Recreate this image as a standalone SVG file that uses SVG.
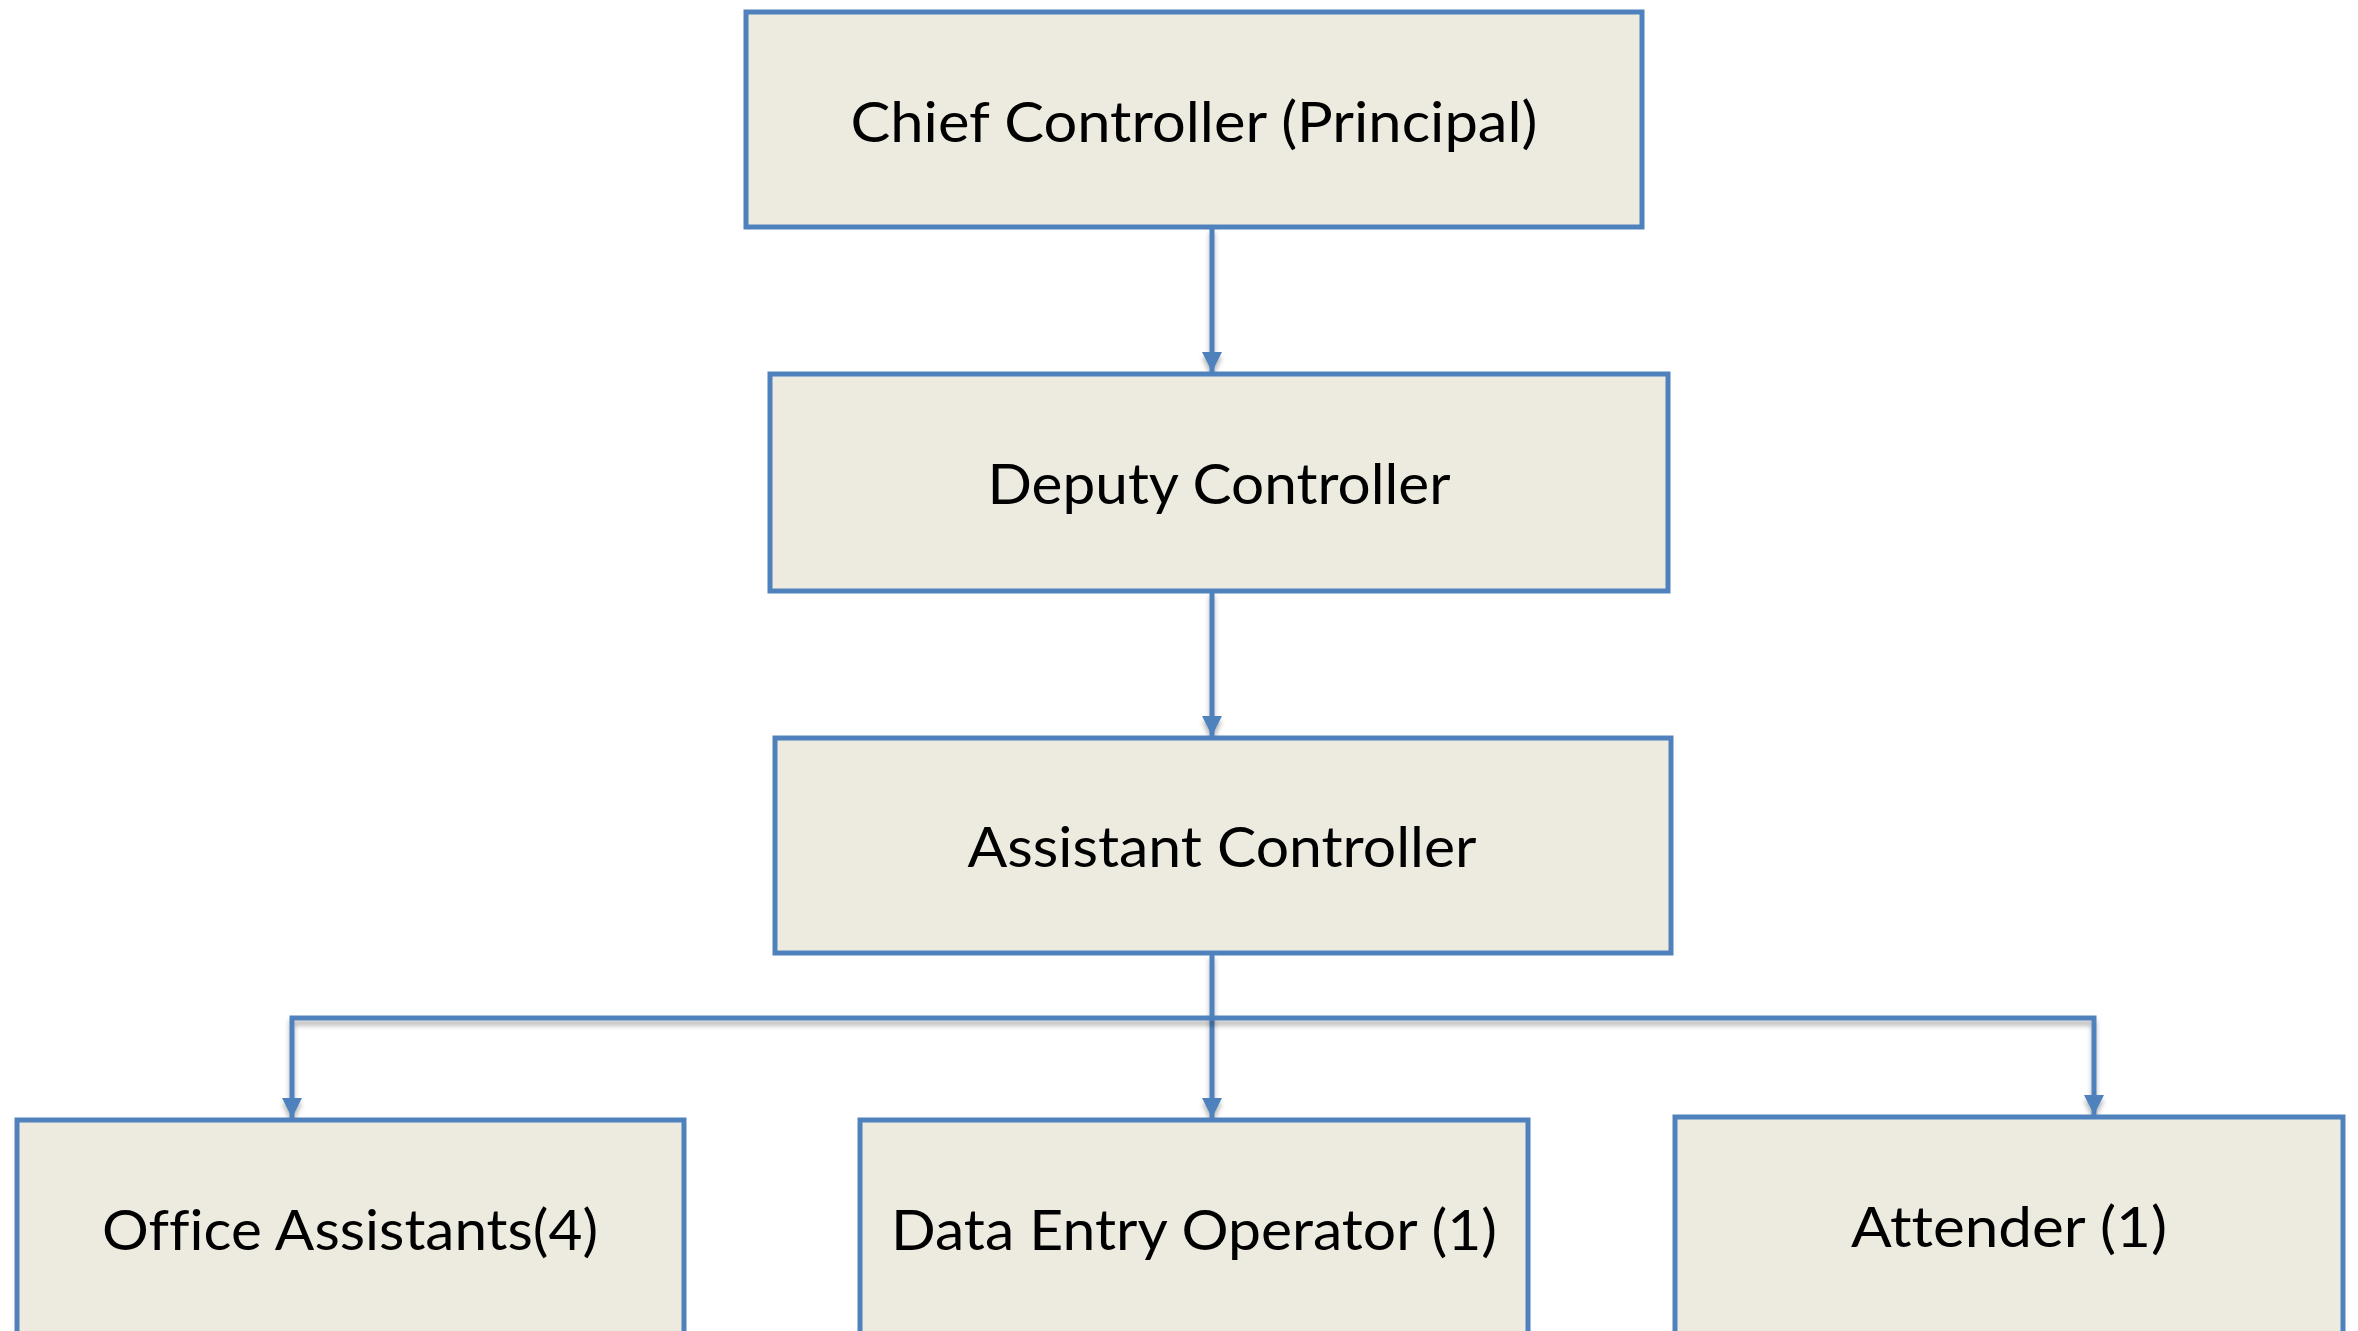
<svg xmlns="http://www.w3.org/2000/svg" width="2358" height="1331" viewBox="0 0 2358 1331">
<style>
.box{fill:#EDEBE0;stroke:#4F81BD;stroke-width:5}
.lbl{font-family:Lato,"Open Sans","Liberation Sans",sans-serif;font-size:57px;fill:#000;text-anchor:middle;font-variant-ligatures:none;font-feature-settings:"liga" 0,"dlig" 0}
.con{fill:none;stroke:#4F81BD;stroke-width:5;filter:url(#sh)}
</style>
<defs>
<marker id="arr" viewBox="0 0 10 10" refX="10" refY="5" markerWidth="4" markerHeight="4" markerUnits="strokeWidth" orient="auto">
<path d="M0,0 L10,5 L0,10 z" fill="#4F81BD"/>
</marker>
<filter id="sh" filterUnits="userSpaceOnUse" x="0" y="0" width="2358" height="1331">
<feGaussianBlur in="SourceAlpha" stdDeviation="2.5"/>
<feOffset dx="0" dy="5" result="b"/>
<feComponentTransfer><feFuncA type="linear" slope="0.3"/></feComponentTransfer>
<feMerge><feMergeNode/><feMergeNode in="SourceGraphic"/></feMerge>
</filter>
</defs>
<rect width="2358" height="1331" fill="#fff"/>
<g id="connectors">
<path class="con" d="M1212,227 V372" marker-end="url(#arr)"/>
<path class="con" d="M1212,591 V736" marker-end="url(#arr)"/>
<path class="con" d="M1212,953 V1118" marker-end="url(#arr)"/>
<path class="con" d="M1212,1018 H292 V1118" marker-end="url(#arr)"/>
<path class="con" d="M1212,1018 H2094 V1115" marker-end="url(#arr)"/>
</g>
<g id="chief">
<rect class="box" x="746" y="12" width="896" height="215"/>
<text class="lbl" x="1194" y="142" textLength="687" lengthAdjust="spacingAndGlyphs">Chief Controller (Principal)</text>
</g>
<g id="deputy">
<rect class="box" x="770" y="374" width="898" height="217"/>
<text class="lbl" x="1219" y="504" textLength="463" lengthAdjust="spacingAndGlyphs">Deputy Controller</text>
</g>
<g id="assistant">
<rect class="box" x="775" y="738" width="896" height="215"/>
<text class="lbl" x="1222" y="867" textLength="509" lengthAdjust="spacingAndGlyphs">Assistant Controller</text>
</g>
<g id="office">
<rect class="box" x="17" y="1120" width="667" height="230"/>
<text class="lbl" x="350" y="1250" textLength="496" lengthAdjust="spacingAndGlyphs">Office Assistants(4)</text>
</g>
<g id="dataentry">
<rect class="box" x="860" y="1120" width="668" height="230"/>
<text class="lbl" x="1194" y="1250" textLength="606" lengthAdjust="spacingAndGlyphs">Data Entry Operator (1)</text>
</g>
<g id="attender">
<rect class="box" x="1675" y="1117" width="668" height="230"/>
<text class="lbl" x="2009" y="1247" textLength="316" lengthAdjust="spacingAndGlyphs">Attender (1)</text>
</g>
</svg>
